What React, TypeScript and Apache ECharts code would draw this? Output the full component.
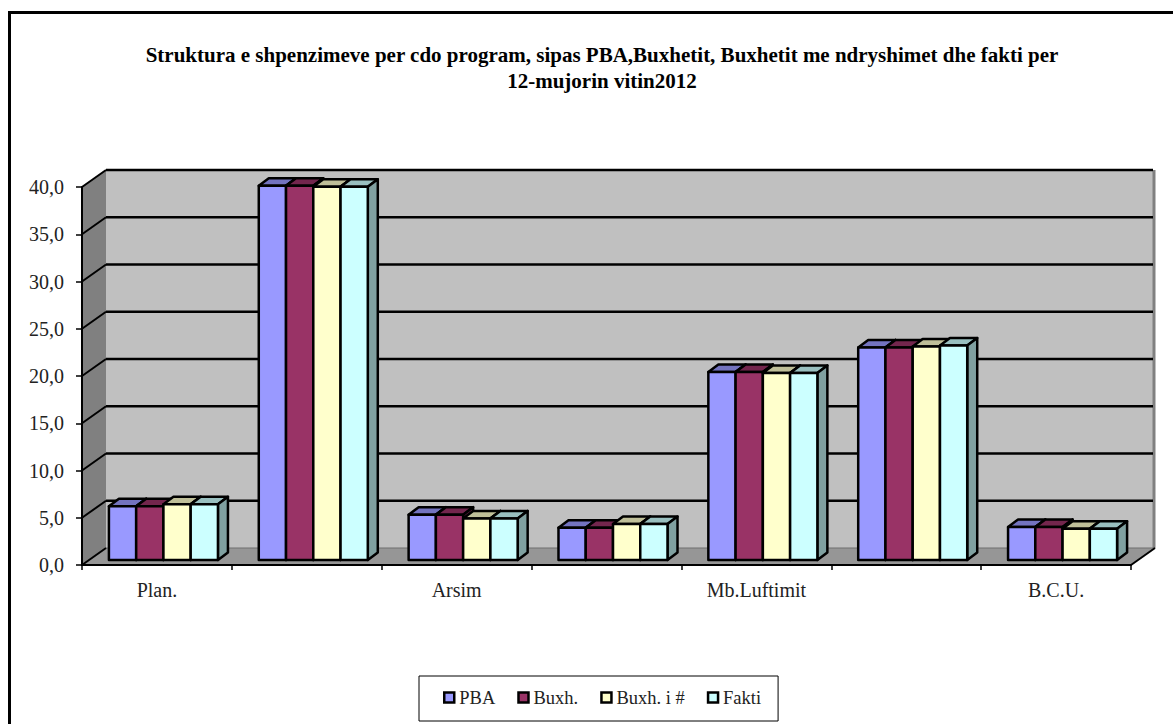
import React, { useEffect, useRef } from "react";
import * as echarts from "echarts";

const categories = ["Plan.", "", "Arsim", "", "Mb.Luftimit", "", "B.C.U."];
const seriesNames = ["PBA", "Buxh.", "Buxh. i #", "Fakti"];
const pba = [5.7, 39.6, 4.8, 3.4, 19.9, 22.5, 3.5];
const buxh = [5.7, 39.6, 4.8, 3.4, 19.9, 22.5, 3.5];
const buxhNdr = [5.9, 39.5, 4.4, 3.8, 19.8, 22.6, 3.3];
const fakti = [5.9, 39.5, 4.4, 3.8, 19.8, 22.7, 3.3];
const seriesValues = [pba, buxh, buxhNdr, fakti];
const yTicks = [0, 5, 10, 15, 20, 25, 30, 35, 40];

const frontColors = ["#9999FF", "#993366", "#FFFFCC", "#CCFFFF"];
const topColors = ["#7373BF", "#73264D", "#BFBF99", "#99BFBF"];
const sideColors = ["#606080", "#602040", "#A0A080", "#80A0A0"];

const WALL_DX = 24;
const WALL_DY = -17;
const BAR_DX = 6.5;
const BAR_DY = -5;
const BAR_DEPTH_X = 10;
const BAR_DEPTH_Y = -7.5;
const GROUP_RATIO = 0.7275;
const FONT = '"Liberation Serif", serif';

function wallsItem(_params: any, api: any) {
  const band = api.size([1, 0])[0];
  const x0 = api.coord([0, 0])[0] - band / 2;
  const x1 = api.coord([6, 0])[0] + band / 2;
  const yb = api.coord([0, 0])[1];
  const yt = api.coord([0, 40])[1];
  const poly = (points: number[][], fill: string) => ({
    type: "polygon",
    shape: { points },
    style: { fill, stroke: null },
  });
  return {
    type: "group",
    children: [
      poly([[x0, yt], [x0 + WALL_DX, yt + WALL_DY], [x0 + WALL_DX, yb + WALL_DY], [x0, yb]], "#808080"),
      poly([[x0 + WALL_DX, yt + WALL_DY], [x1 + WALL_DX, yt + WALL_DY], [x1 + WALL_DX, yb + WALL_DY], [x0 + WALL_DX, yb + WALL_DY]], "#C0C0C0"),
      poly([[x0, yb], [x0 + WALL_DX, yb + WALL_DY], [x1 + WALL_DX, yb + WALL_DY], [x1, yb]], "#969696"),
      {
        type: "line",
        shape: { x1: x1 + WALL_DX - 1, y1: yt + WALL_DY, x2: x1 + WALL_DX - 1, y2: yb + WALL_DY },
        style: { stroke: "#808080", lineWidth: 3 },
      },
      {
        type: "line",
        shape: { x1: x0 + WALL_DX, y1: yb + WALL_DY, x2: x1 + WALL_DX, y2: yb + WALL_DY },
        style: { stroke: "#6E6E6E", lineWidth: 1 },
      },
      {
        type: "line",
        shape: { x1, y1: yb, x2: x1 + WALL_DX, y2: yb + WALL_DY },
        style: { stroke: "#000", lineWidth: 2 },
      },
    ],
  };
}

function gridItem(_params: any, api: any) {
  const band = api.size([1, 0])[0];
  const x0 = api.coord([0, 0])[0] - band / 2;
  const x1 = api.coord([6, 0])[0] + band / 2;
  const value = api.value(1);
  const y = api.coord([0, value])[1];
  const children: any[] = [
    {
      type: "line",
      shape: { x1: x0, y1: y, x2: x0 + WALL_DX, y2: y + WALL_DY },
      style: { stroke: "#000", lineWidth: 2 },
    },
  ];
  if (value > 0) {
    children.push({
      type: "line",
      shape: { x1: x0 + WALL_DX, y1: y + WALL_DY, x2: x1 + WALL_DX - 2, y2: y + WALL_DY },
      style: { stroke: "#000", lineWidth: 2.5 },
    });
  }
  return { type: "group", children };
}

function barItem(seriesIndex: number) {
  return (_params: any, api: any) => {
    const band = api.size([1, 0])[0];
    const w = (band * GROUP_RATIO) / seriesNames.length;
    const c = api.coord([api.value(0), api.value(1)]);
    const base = api.coord([api.value(0), 0])[1] + BAR_DY;
    const l = c[0] + BAR_DX - (w * seriesNames.length) / 2 + w * seriesIndex;
    const r = l + w;
    const t = c[1] + BAR_DY;
    const face = (points: number[][], fill: string) => ({
      type: "polygon",
      shape: { points },
      style: { fill, stroke: "#000", lineWidth: 2.5, lineJoin: "round" },
    });
    return {
      type: "group",
      children: [
        face([[l, t], [l + BAR_DEPTH_X, t + BAR_DEPTH_Y], [r + BAR_DEPTH_X, t + BAR_DEPTH_Y], [r, t]], topColors[seriesIndex]),
        face([[r, t], [r + BAR_DEPTH_X, t + BAR_DEPTH_Y], [r + BAR_DEPTH_X, base + BAR_DEPTH_Y], [r, base]], sideColors[seriesIndex]),
        face([[l, t], [r, t], [r, base], [l, base]], frontColors[seriesIndex]),
      ],
    };
  };
}

export default function App() {
  const ref = useRef<HTMLDivElement>(null);
  useEffect(() => {
    const chart = echarts.init(ref.current!, null, { renderer: "svg" });
    chart.setOption({
      animation: false,
      backgroundColor: "#fff",
      title: {
        text: "Struktura e shpenzimeve per cdo program, sipas PBA,Buxhetit, Buxhetit me ndryshimet dhe fakti per\n12-mujorin vitin2012",
        left: 597,
        top: 37,
        textAlign: "center",
        textStyle: { fontFamily: FONT, fontWeight: "bold", fontSize: 21, lineHeight: 26, color: "#000" },
      },
      graphic: [
        {
          type: "rect",
          z: 0,
          shape: { x: 9.5, y: 12.5, width: 1300, height: 900 },
          style: { fill: "none", stroke: "#000", lineWidth: 3 },
        },
      ],
      legend: {
        data: seriesNames,
        left: 419,
        top: 676,
        padding: [12, 17, 14, 24],
        itemGap: 22,
        itemWidth: 10,
        itemHeight: 10,
        icon: "rect",
        borderColor: "#000",
        borderWidth: 1,
        backgroundColor: "#fff",
        itemStyle: { borderColor: "#000", borderWidth: 2.5 },
        textStyle: { fontFamily: FONT, fontSize: 18.5, color: "#222" },
        selectedMode: false,
      },
      grid: { left: 82, top: 187, width: 1049, height: 378 },
      xAxis: {
        type: "category",
        data: categories,
        z: 5,
        axisLine: { lineStyle: { color: "#000", width: 2 } },
        axisTick: { show: true, length: 5, lineStyle: { color: "#000", width: 1.5 } },
        axisLabel: { interval: 0, margin: 15, fontFamily: FONT, fontSize: 20, color: "#222" },
      },
      yAxis: {
        type: "value",
        min: 0,
        max: 40,
        interval: 5,
        z: 5,
        axisLine: { show: true, lineStyle: { color: "#000", width: 2 } },
        axisTick: { show: true, length: 6, lineStyle: { color: "#000", width: 1.5 } },
        splitLine: { show: false },
        axisLabel: {
          margin: 18,
          fontFamily: FONT,
          fontSize: 20,
          color: "#222",
          formatter: (v: number) => v.toFixed(1).replace(".", ","),
        },
      },
      series: [
        { type: "custom", name: "walls", z: 1, silent: true, clip: false, renderItem: wallsItem, data: [[0, 0]], encode: { x: 0, y: 1 } },
        { type: "custom", name: "grid", z: 1, silent: true, clip: false, renderItem: gridItem, data: yTicks.map((v) => [0, v]), encode: { x: 0, y: 1 } },
        ...seriesNames.map((name, i) => ({
          type: "custom",
          name,
          z: 2,
          clip: false,
          itemStyle: { color: frontColors[i] },
          renderItem: barItem(i),
          data: seriesValues[i].map((v, k) => [k, v]),
          encode: { x: 0, y: 1 },
        })),
      ],
    });
    return () => chart.dispose();
  }, []);
  return <div ref={ref} style={{ position: "fixed", left: 0, top: 0, width: 1173, height: 724 }} />;
}
